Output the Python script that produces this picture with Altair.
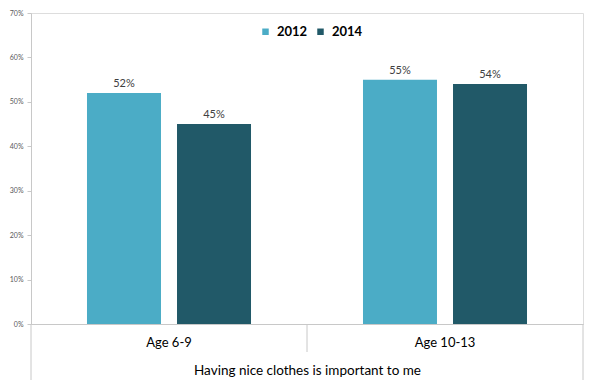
import altair as alt
import pandas as pd

categories = ["Age 6-9", "Age 10-13"]
years = ["2012", "2014"]
values_2012 = [52, 55]
values_2014 = [45, 54]
y_ticks = [0, 0.1, 0.2, 0.3, 0.4, 0.5, 0.6, 0.7]
colors = ["#4BACC6", "#215968"]
x_title = "Having nice clothes is important to me"

rows = []
for i, c in enumerate(categories):
    rows.append({"cat": c, "year": years[0], "v": values_2012[i] / 100})
    rows.append({"cat": c, "year": years[1], "v": values_2014[i] / 100})
df = pd.DataFrame(rows)
df["label"] = (df["v"] * 100).round().astype(int).astype(str) + "%"

FONT = "Lato"
LINE = "#c8c8c8"
H = 311

xscale = alt.Scale(domain=categories, paddingInner=0, paddingOuter=0)
xoff = alt.XOffset("year:N", scale=alt.Scale(domain=years, paddingInner=0.178, paddingOuter=0.622))
yscale = alt.Scale(domain=[0, 0.7])

base = alt.Chart(df)

bars = base.mark_bar().encode(
    x=alt.X("cat:N", scale=xscale, sort=categories,
            axis=alt.Axis(title=x_title, ticks=False, domain=True, domainColor=LINE,
                          labelAngle=0, labelFontSize=13, labelFont=FONT, labelColor="#000000",
                          labelPadding=12, titleFontSize=13.5, titleFont=FONT,
                          titleFontWeight="normal", titleColor="#000000", titlePadding=14)),
    xOffset=xoff,
    y=alt.Y("v:Q", scale=yscale,
            axis=alt.Axis(title=None, values=y_ticks, format=".0%", grid=False,
                          domainColor=LINE, tickColor=LINE, tickSize=4,
                          labelFontSize=7, labelFont=FONT, labelColor="#595959",
                          labelPadding=4)),
    color=alt.Color("year:N", scale=alt.Scale(domain=years, range=colors),
                    legend=alt.Legend(title=None, orient="none", direction="horizontal",
                                      legendX=228, legendY=12, symbolType="square",
                                      symbolSize=42, symbolStrokeWidth=0,
                                      labelFontSize=13, labelFontWeight="bold",
                                      labelFont=FONT, labelColor="#000000",
                                      labelOffset=5, columnPadding=6)),
)

labels = base.mark_text(baseline="bottom", dy=-4, fontSize=11, font=FONT, color="#404040").encode(
    x=alt.X("cat:N", scale=xscale, sort=categories),
    xOffset=xoff,
    y=alt.Y("v:Q", scale=yscale),
    text="label:N",
)

sep_df = pd.DataFrame({"cat": categories})
short_sep = alt.Chart(sep_df).transform_filter(
    alt.datum.cat != categories[0]
).mark_rule(color=LINE, strokeWidth=1).encode(
    x=alt.X("cat:N", scale=xscale, sort=categories, bandPosition=0),
    y=alt.value(H), y2=alt.value(H + 28),
)
left_line = alt.Chart(sep_df).transform_filter(
    alt.datum.cat == categories[0]
).mark_rule(color=LINE, strokeWidth=1).encode(
    x=alt.X("cat:N", scale=xscale, sort=categories, bandPosition=0),
    y=alt.value(H), y2=alt.value(H + 56),
)
right_line = alt.Chart(sep_df).transform_filter(
    alt.datum.cat == categories[-1]
).mark_rule(color=LINE, strokeWidth=1).encode(
    x=alt.X("cat:N", scale=xscale, sort=categories, bandPosition=1),
    y=alt.value(H), y2=alt.value(H + 56),
)

chart = alt.layer(bars, labels, short_sep, left_line, right_line).properties(
    width=552, height=H,
    autosize=alt.AutoSizeParams(type="none"),
    padding={"left": 23, "top": 5, "right": 8, "bottom": 60},
).configure_view(stroke=None).configure(background="white")

chart.save("out.html", embed_options={"renderer": "svg", "actions": False})
